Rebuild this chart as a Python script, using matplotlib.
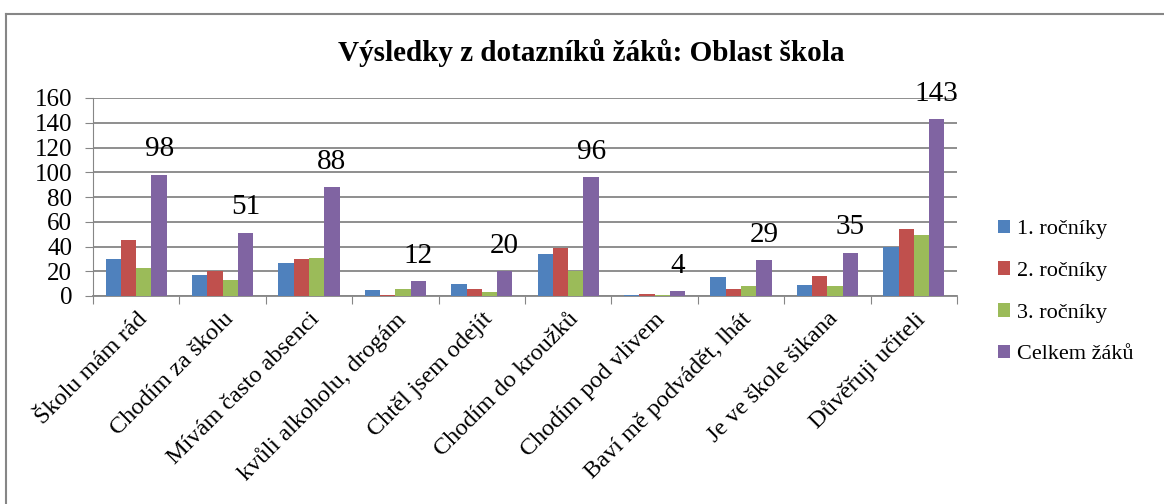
import matplotlib.pyplot as plt
import numpy as np
from matplotlib.lines import Line2D

# Data
kategorie = ["Školu mám rád", "Chodím za školu", "Mívám často absenci",
             "kvůli alkoholu, drogám", "Chtěl jsem odejít", "Chodím do kroužků",
             "Chodím pod vlivem", "Baví mě podvádět, lhát", "Je ve škole šikana",
             "Důvěřuji učiteli"]
serie = ["1. ročníky", "2. ročníky", "3. ročníky", "Celkem žáků"]
rocnik1 = [30, 17, 27, 5, 10, 34, 1, 15, 9, 40]
rocnik2 = [45, 20, 30, 1, 6, 39, 2, 6, 16, 54]
rocnik3 = [23, 13, 31, 6, 3, 20, 1, 8, 8, 49]
celkem = [98, 51, 88, 12, 20, 96, 4, 29, 35, 143]
yticks = [0, 20, 40, 60, 80, 100, 120, 140, 160]

barvy = ['#4F81BD', '#C0504D', '#9BBB59', '#8064A2']
seda = '#868686'

plt.rcParams['font.family'] = ['Liberation Serif', 'DejaVu Serif']

fig = plt.figure(figsize=(11.64, 5.04), dpi=100)
ax = fig.add_axes([93 / 1164, 1 - 296 / 504, (957 - 93) / 1164, (296 - 98) / 504])

x = np.arange(len(kategorie))
sirka = 0.177
hodnoty = [rocnik1, rocnik2, rocnik3, celkem]
for i, (h, b, n) in enumerate(zip(hodnoty, barvy, serie)):
    ax.bar(x + (i - 1.5) * sirka, h, width=sirka, color=b, label=n, zorder=3)

# popisky nad celkem
for xi, v in zip(x, celkem):
    ax.annotate(str(v), (xi + 1.5 * sirka, v), xytext=(0, 9), textcoords='offset points',
                ha='center', va='bottom', fontsize=21)

ax.set_xlim(-0.5, len(kategorie) - 0.5)
ax.set_ylim(0, 160)
ax.set_yticks(yticks)
ax.tick_params(axis='y', labelsize=18, length=6, color=seda, pad=9)
ax.yaxis.grid(True, color=seda, linewidth=1.3, zorder=0)
ax.set_axisbelow(True)

ax.set_xticks(np.arange(len(kategorie) + 1) - 0.5)
ax.set_xticklabels([])
ax.set_xticks(x, minor=True)
ax.set_xticklabels(kategorie, minor=True, rotation=45, ha='right',
                   rotation_mode='anchor', fontsize=17.5)
ax.tick_params(axis='x', which='major', length=6, color=seda)
ax.tick_params(axis='x', which='minor', length=0, pad=9)

for s in ['top', 'right']:
    ax.spines[s].set_visible(False)
ax.spines['left'].set_color(seda)
ax.spines['bottom'].set_color(seda)
ax.spines['bottom'].set_linewidth(1.3)

fig.text(591 / 1164, 1 - 53 / 504, "Výsledky z dotazníků žáků: Oblast škola",
         ha='center', va='center', fontsize=21, fontweight='bold')

ax.legend(loc='center left', bbox_to_anchor=(1.024, 0.02), frameon=False,
          fontsize=16, handlelength=0.55, handleheight=0.55, handletextpad=0.3,
          labelspacing=1.0)

# rámeček grafu
fig.add_artist(Line2D([6 / 1164, 1], [1 - 14 / 504] * 2, color=seda, linewidth=1.5))
fig.add_artist(Line2D([6 / 1164] * 2, [0, 1 - 14 / 504], color=seda, linewidth=1.5))

fig.savefig('out.png', dpi=100)
